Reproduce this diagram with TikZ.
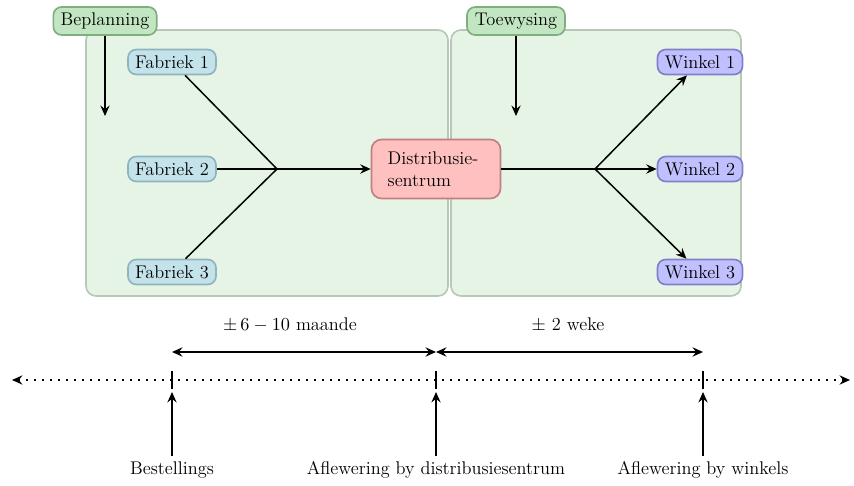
\documentclass[tikz,border=0pt]{standalone}
\usetikzlibrary{arrows.meta}
\definecolor{bgfill}{HTML}{E6F4E6}
\definecolor{bgdraw}{HTML}{B8C8B8}
\definecolor{gfill}{HTML}{C2E6C2}
\definecolor{gdraw}{HTML}{7FAF7F}
\definecolor{bfill}{HTML}{C3E2EA}
\definecolor{bdraw}{HTML}{8FB4BE}
\definecolor{rfill}{HTML}{FFC0C0}
\definecolor{rdraw}{HTML}{C08080}
\definecolor{pfill}{HTML}{C0C0FF}
\definecolor{pdraw}{HTML}{8080C8}
\begin{document}
\begin{tikzpicture}[x=0.6pt,y=-0.6pt,
  font=\fontsize{11}{13}\selectfont,
  >={Stealth[length=6.3pt,width=5.6pt,inset=2.2pt]},
  conn/.style={line width=0.9pt},
  bgbox/.style={draw=bgdraw,fill=bgfill,line width=1pt,rounded corners=6pt},
  small/.style={line width=1pt,rounded corners=5pt,inner sep=1.5pt,minimum height=15pt},
  gbox/.style={small,draw=gdraw,fill=gfill,minimum width=62pt,minimum height=16.8pt},
  fbox/.style={small,draw=bdraw,fill=bfill,minimum width=52.8pt},
  wbox/.style={small,draw=pdraw,fill=pfill,minimum width=51pt},
  dbox/.style={line width=1pt,rounded corners=6pt,draw=rdraw,fill=rfill,text width=58pt,align=left,minimum width=77.4pt,minimum height=35.4pt,inner xsep=9.7pt},
  lab/.style={inner sep=1pt}]
\useasboundingbox (0,0) rectangle (854,486);
% background panels
\node[bgbox,minimum width=217.2pt,minimum height=159.6pt] (leftbg) at (267,163) {};
\node[bgbox,minimum width=174pt,minimum height=159.6pt] (rightbg) at (596,163) {};
% top labels
\node[gbox] (plan) at (105,21) {Beplanning};
\node[gbox,minimum width=58.8pt] (toe) at (516,21) {Toewysing};
\coordinate (planend) at (105,116);
\coordinate (toeend) at (516,116);
\draw[conn,->] (plan) -- (planend);
\draw[conn,->] (toe) -- (toeend);
% factories
\node[fbox] (f1) at (172,62) {Fabriek 1};
\node[fbox] (f2) at (172,169) {Fabriek 2};
\node[fbox] (f3) at (172,272) {Fabriek 3};
\coordinate (j1) at (277,169);
\node[dbox] (dc) at (436,169) {Distribusie-\\sentrum};
\draw[conn] (f1) -- (j1);
\draw[conn] (f2) -- (j1);
\draw[conn] (f3) -- (j1);
\draw[conn,->] (j1) -- (dc);
% shops
\coordinate (j2) at (595,169);
\node[wbox] (w1) at (700,62) {Winkel 1};
\node[wbox] (w2) at (700,169) {Winkel 2};
\node[wbox] (w3) at (700,272) {Winkel 3};
\draw[conn] (dc) -- (j2);
\draw[conn,->] (j2) -- (w1);
\draw[conn,->] (j2) -- (w2);
\draw[conn,->] (j2) -- (w3);
% timeline
\coordinate (tl) at (12,380);
\coordinate (tr) at (850,380);
\draw[conn,<->,dash pattern=on 0.9pt off 3.9pt] (tl) -- (tr);
\coordinate (t1) at (172,380);
\coordinate (t2) at (436,380);
\coordinate (t3) at (703,380);
\foreach \t in {t1,t2,t3}{
  \draw[conn] ([yshift=5.4pt]\t) -- ([yshift=-5.4pt]\t);
}
% durations
\coordinate (a1) at (172,352);
\coordinate (a2) at (436,352);
\coordinate (a3) at (703,352);
\draw[conn,<->] (a1) -- (a2);
\draw[conn,<->] (a2) -- (a3);
\node[lab] (d1) at (290,325) {$\pm\, 6-10$ maande};
\node[lab] (d2) at (568,325) {$\pm$ 2 weke};
% events
\node[lab] (e1) at (172,470) {Bestellings};
\node[lab] (e2) at (436,470) {Aflewering by distribusiesentrum};
\node[lab] (e3) at (703,470) {Aflewering by winkels};
\coordinate (u1) at (172,392);
\coordinate (u2) at (436,392);
\coordinate (u3) at (703,392);
\coordinate (s1) at (172,456);
\coordinate (s2) at (436,456);
\coordinate (s3) at (703,456);
\draw[conn,->] (s1) -- (u1);
\draw[conn,->] (s2) -- (u2);
\draw[conn,->] (s3) -- (u3);
\end{tikzpicture}
\end{document}
